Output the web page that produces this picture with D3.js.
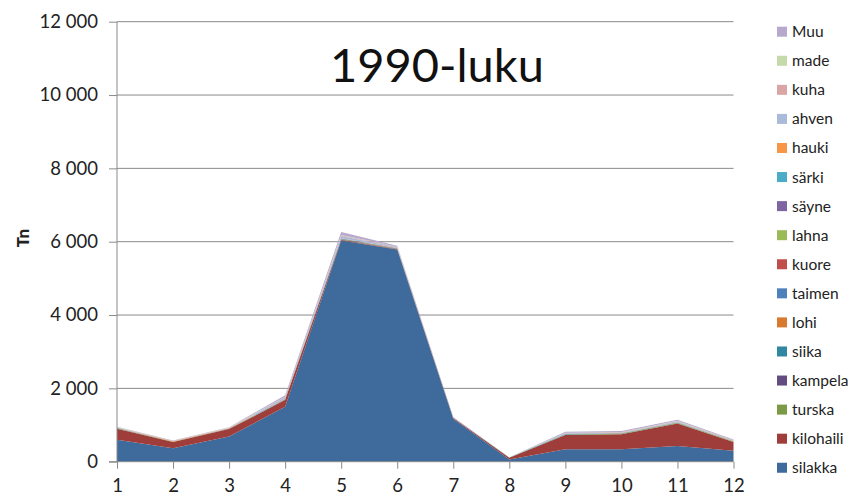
<!DOCTYPE html>
<html><head><meta charset="utf-8">
<script src="https://cdn.jsdelivr.net/npm/d3@7"></script>
<style>body{margin:0;background:#fff}svg{display:block}</style>
</head><body>
<svg id="c" width="852" height="498"></svg>
<script>
const months = [1,2,3,4,5,6,7,8,9,10,11,12];
const yTicks = [0,2000,4000,6000,8000,10000,12000];
const seriesNames = ["silakka","kilohaili","turska","kampela","siika","lohi","taimen","kuore","lahna","säyne","särki","hauki","ahven","kuha","made","Muu"];
const silakka   = [600,370,690,1500,6030,5790,1170,60,340,340,430,300];
const kilohaili = [300,170,200,180,20,10,20,50,390,410,610,240];
const turska    = [5,3,3,5,10,5,2,1,10,10,15,8];
const kampela   = [2,1,1,2,3,2,1,0,2,2,2,1];
const siika     = [5,3,5,10,10,5,3,1,5,5,5,3];
const lohi      = [3,2,2,3,5,3,1,0,5,5,5,3];
const taimen    = [1,1,1,2,2,1,1,0,1,1,1,1];
const kuore     = [2,1,2,5,5,3,1,0,2,2,2,2];
const lahna     = [1,1,1,2,2,1,1,0,1,1,1,1];
const sayne     = [1,1,1,1,1,1,0,0,1,1,1,1];
const sarki     = [2,1,2,3,3,2,1,0,2,2,2,2];
const hauki     = [3,2,3,5,5,3,1,1,3,3,3,2];
const ahven     = [10,5,10,40,60,30,5,3,15,15,20,10];
const kuha      = [5,3,5,10,20,10,3,1,10,10,15,8];
const made      = [5,3,5,5,10,5,2,1,5,5,5,3];
const muu       = [10,8,10,40,80,20,5,3,25,25,30,20];
const seriesValues = [silakka,kilohaili,turska,kampela,siika,lohi,taimen,kuore,lahna,sayne,sarki,hauki,ahven,kuha,made,muu];
const colors = ["#3E6A9C","#9E3D3A","#7A9A45","#634C80","#31879F","#D8792F","#4E80BC","#C24E4B","#9BBB59","#8064A2","#4BACC6","#F79646","#A9BBD9","#DAA6A5","#C5DAAB","#B6A9CD"];
const title = "1990-luku";
const yLabel = "Tn";

const FONT = "Lato, 'Open Sans', sans-serif";
const svg = d3.select("#c");
const x = d3.scaleLinear().domain([1,12]).range([117,733.5]);
const y = d3.scaleLinear().domain([0,12000]).range([461.7,21.7]);

const table = months.map((m,i)=>{const o={month:m}; seriesNames.forEach((n,k)=>o[n]=seriesValues[k][i]); return o;});
const stacked = d3.stack().keys(seriesNames)(table);

// gridlines
svg.append("g").selectAll("line").data(yTicks.filter(t=>t>0)).join("line")
  .attr("x1",x(1)).attr("x2",x(12)).attr("y1",d=>y(d)).attr("y2",d=>y(d))
  .attr("stroke","#8a8a8a").attr("stroke-width",1);

// areas
const area = d3.area().x((d,i)=>x(months[i])).y0(d=>y(d[0])).y1(d=>y(d[1]));
svg.append("g").selectAll("path").data(stacked).join("path")
  .attr("d",area).attr("fill",(d,i)=>colors[i]);

// y axis
const ya = svg.append("g").attr("transform",`translate(${x(1)},0)`)
  .call(d3.axisLeft(y).tickValues(yTicks).tickSize(8).tickPadding(11)
    .tickFormat(d=>d3.format(",")(d).replace(/,/g," ")));
ya.select(".domain").attr("stroke","#8a8a8a").attr("d",`M0,${y(12000)}V${y(0)}`);
ya.selectAll(".tick line").attr("stroke","#8a8a8a");
ya.selectAll("text").attr("font-family",FONT).attr("font-size",18.5).attr("fill","#222");

// x axis
const xa = svg.append("g").attr("transform",`translate(0,${y(0)})`)
  .call(d3.axisBottom(x).tickValues(months).tickSize(7).tickPadding(10).tickFormat(d3.format("d")));
xa.select(".domain").attr("stroke","#8a8a8a").attr("d",`M${x(1)-8},0H${x(12)}`);
xa.selectAll(".tick line").attr("stroke","#8a8a8a");
xa.selectAll("text").attr("font-family",FONT).attr("font-size",18.5).attr("fill","#222");

// y label
svg.append("text").attr("transform","translate(29,238) rotate(-90)")
  .attr("text-anchor","middle").attr("font-family",FONT).attr("font-weight",900)
  .attr("font-size",17).attr("fill","#222").text(yLabel);

// title
svg.append("text").attr("x",330).attr("y",82).attr("font-family",FONT)
  .attr("font-size",47).attr("fill","#111").text(title);

// legend (reverse order)
const legendItems = seriesNames.map((n,i)=>({n,c:colors[i]})).reverse();
const lg = svg.append("g").selectAll("g").data(legendItems).join("g")
  .attr("transform",(d,i)=>`translate(777,${31.7+i*29.07})`);
lg.append("rect").attr("x",0).attr("y",-5).attr("width",10).attr("height",10).attr("fill",d=>d.c);
lg.append("text").attr("x",15).attr("y",5.5).attr("font-family",FONT).attr("font-size",15.5)
  .attr("fill","#222").text(d=>d.n);
</script>
</body></html>
